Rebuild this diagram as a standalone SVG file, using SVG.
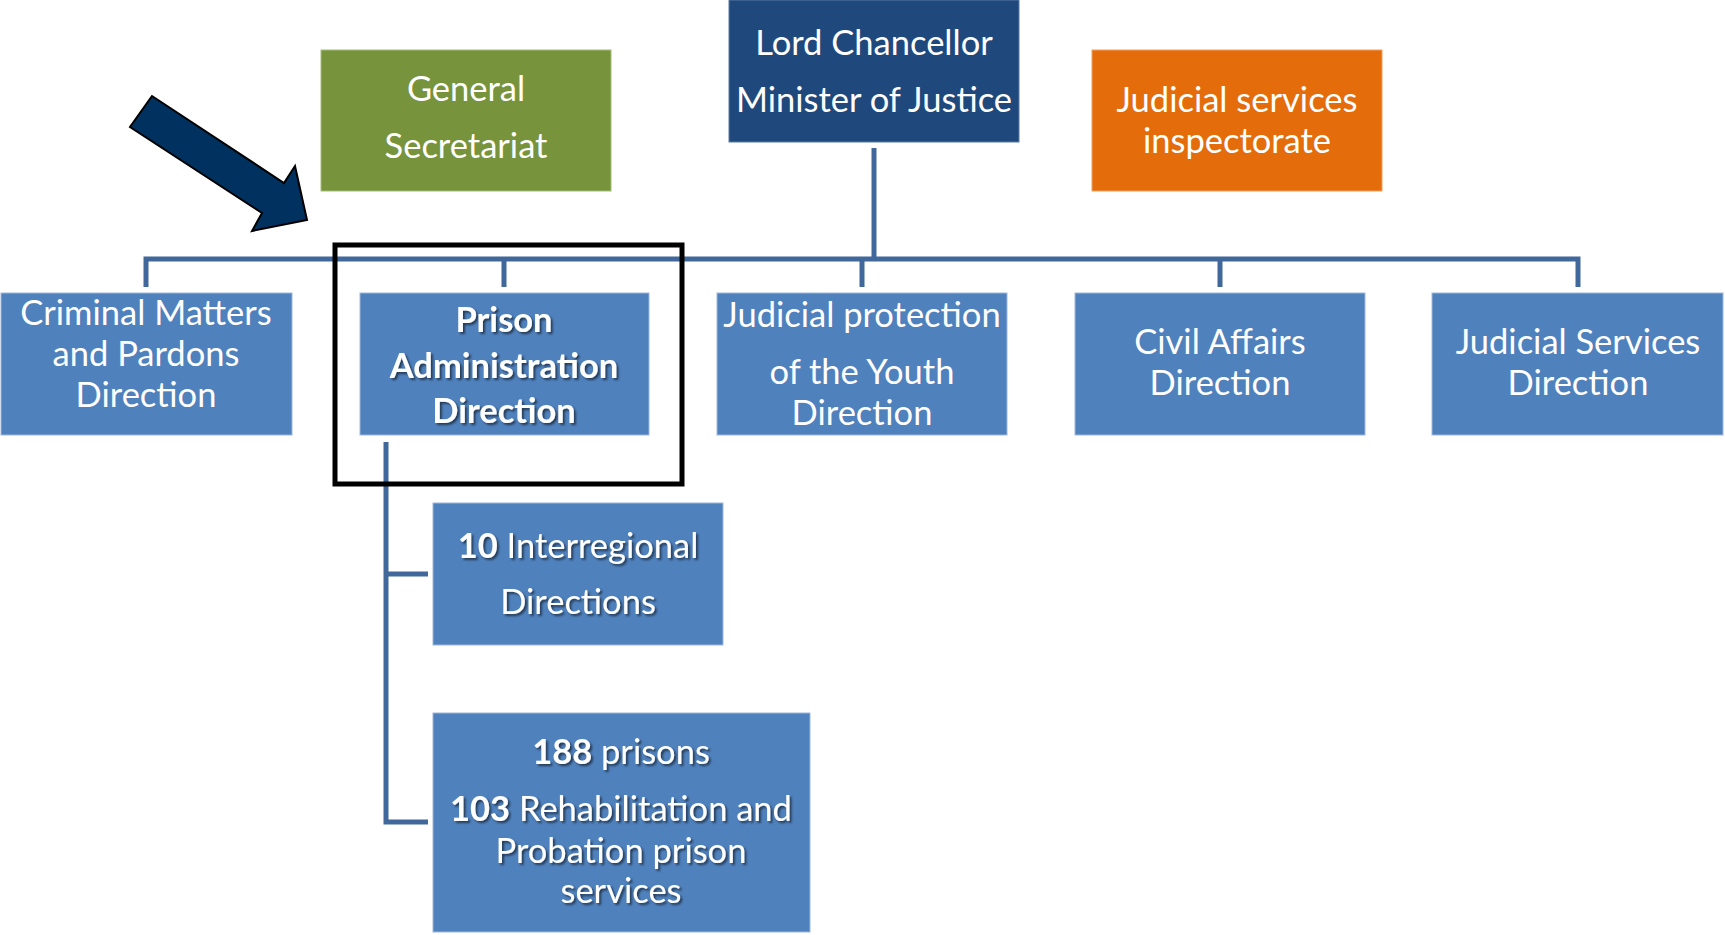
<svg xmlns="http://www.w3.org/2000/svg" width="1725" height="935" viewBox="0 0 1725 935">
<style>
.box{fill:#4F81BD;stroke:#9DB7DA;stroke-width:1}
.t{font-family:Lato,"Open Sans",sans-serif;font-size:34.5px;fill:#fff;text-anchor:middle}
.b{font-weight:bold}
.sh{filter:url(#shadow)}
.ln{fill:none;stroke:#41689A;stroke-width:5;stroke-linejoin:miter}
</style>
<defs>
<filter id="shadow" x="-10%" y="-30%" width="120%" height="160%">
<feDropShadow dx="2" dy="2" stdDeviation="1.2" flood-color="#000" flood-opacity="0.55"/>
</filter>
</defs>
<g id="connectors">
<path class="ln" d="M874 148 V259"/>
<path class="ln" d="M146 287 V259 H1578 V287"/>
<path class="ln" d="M504 259 V287 M862 259 V287 M1220 259 V287"/>
<path class="ln" d="M386 442 V822 H428 M386 574 H428"/>
</g>
<g id="arrow">
<polygon points="152,96 130,127 262,213 252,231 307,220 295,166 284,183" fill="#00315F" stroke="#000" stroke-width="2"/>
</g>
<g id="highlight">
<rect x="335" y="245" width="347" height="239" fill="none" stroke="#000" stroke-width="5"/>
</g>
<g id="lord-chancellor">
<rect x="729" y="0" width="290" height="142" fill="#1F497D" stroke="#5A7BA6" stroke-width="1"/>
<text class="t" x="874" y="55">Lord Chancellor</text>
<text class="t" x="874" y="112">Minister of Justice</text>
</g>
<g id="general-secretariat">
<rect x="321" y="50" width="290" height="141" fill="#77933C" stroke="#A6BD78" stroke-width="1"/>
<text class="t" x="466" y="101">General</text>
<text class="t" x="466" y="158">Secretariat</text>
</g>
<g id="inspectorate">
<rect x="1092" y="50" width="290" height="141" fill="#E46C0A" stroke="#F0A060" stroke-width="1"/>
<text class="t" x="1237" y="112">Judicial services</text>
<text class="t" x="1237" y="153">inspectorate</text>
</g>
<g id="criminal">
<rect class="box" x="1" y="293" width="291" height="142"/>
<text class="t" x="146" y="325">Criminal Matters</text>
<text class="t" x="146" y="366">and Pardons</text>
<text class="t" x="146" y="407">Direction</text>
</g>
<g id="prison">
<rect class="box" x="360" y="293" width="289" height="142"/>
<text class="t b sh" x="504" y="332">Prison</text>
<text class="t b sh" x="504" y="378">Administration</text>
<text class="t b sh" x="504" y="423">Direction</text>
</g>
<g id="youth">
<rect class="box" x="717" y="293" width="290" height="142"/>
<text class="t" x="862" y="327">Judicial protection</text>
<text class="t" x="862" y="384">of the Youth</text>
<text class="t" x="862" y="425">Direction</text>
</g>
<g id="civil">
<rect class="box" x="1075" y="293" width="290" height="142"/>
<text class="t" x="1220" y="354">Civil Affairs</text>
<text class="t" x="1220" y="395">Direction</text>
</g>
<g id="judicial-services">
<rect class="box" x="1432" y="293" width="291" height="142"/>
<text class="t" x="1578" y="354">Judicial Services</text>
<text class="t" x="1578" y="395">Direction</text>
</g>
<g id="interregional">
<rect class="box" x="433" y="503" width="290" height="142"/>
<text class="t sh" x="578" y="558"><tspan class="b">10</tspan> Interregional</text>
<text class="t sh" x="578" y="614">Directions</text>
</g>
<g id="prisons">
<rect class="box" x="433" y="713" width="377" height="219"/>
<text class="t sh" x="621" y="764"><tspan class="b">188</tspan> prisons</text>
<text class="t sh" x="621" y="821"><tspan class="b">103</tspan> Rehabilitation and</text>
<text class="t sh" x="621" y="863">Probation prison</text>
<text class="t sh" x="621" y="903">services</text>
</g>
</svg>
